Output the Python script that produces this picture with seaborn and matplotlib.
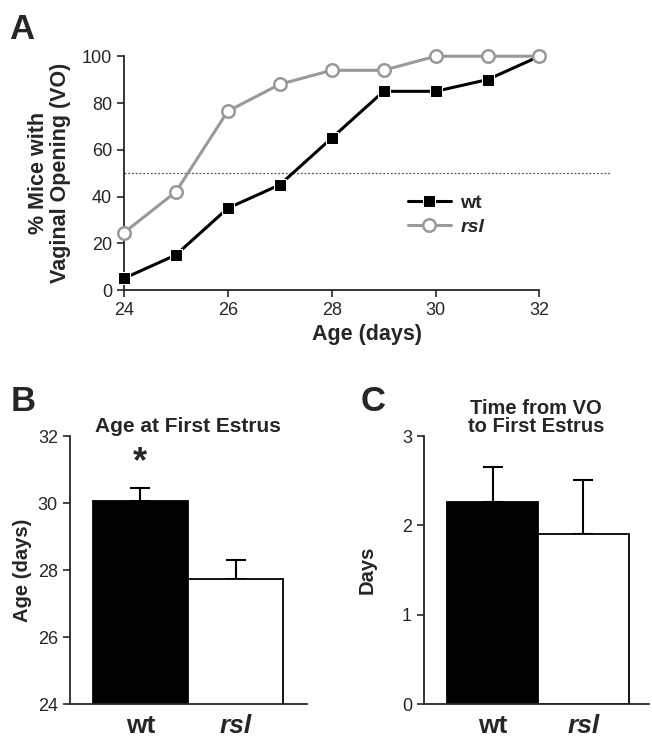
import matplotlib
matplotlib.use("Agg")
import matplotlib.pyplot as plt
import seaborn as sns
import pandas as pd

sns.set_style("ticks")
plt.rcParams["font.family"] = ["Liberation Sans", "DejaVu Sans"]

# Panel A data
age_days = [24, 25, 26, 27, 28, 29, 30, 31, 32]
wt_vo = [5, 15, 35, 45, 65, 85, 85, 90, 100]
rsl_vo = [24.5, 42, 76.5, 88, 94, 94, 100, 100, 100]

# Panel B / C data
groups = ["wt", "rsl"]
first_estrus_age = [30.05, 27.72]
first_estrus_sem = [0.40, 0.59]
vo_to_estrus = [2.26, 1.90]
vo_to_estrus_sem = [0.40, 0.61]

df_a = pd.DataFrame({
    "age": age_days * 2,
    "pct": wt_vo + rsl_vo,
    "genotype": ["wt"] * len(age_days) + ["rsl"] * len(age_days),
})

GRAY = "#999999"
fig = plt.figure(figsize=(6.52, 7.40), dpi=100)

# ---- Panel A ----
ax_a = fig.add_axes([0.190, 0.608, 0.745, 0.316])
sns.lineplot(data=df_a, x="age", y="pct", hue="genotype", style="genotype",
             palette={"wt": "black", "rsl": GRAY},
             markers={"wt": "s", "rsl": "o"}, dashes=False,
             linewidth=2.2, markersize=8, ax=ax_a, clip_on=False, zorder=3)
for ln in ax_a.lines:
    if ln.get_color() == GRAY:
        ln.set_markerfacecolor("white")
        ln.set_markeredgecolor(GRAY)
        ln.set_markeredgewidth(1.8)
        ln.set_markersize(9)
ax_a.axhline(50, color="#555555", linestyle=(0, (1.5, 1.5)), linewidth=0.9, zorder=1)
ax_a.set_xlim(24, 33.35)
ax_a.set_ylim(0, 100)
ax_a.spines["bottom"].set_bounds(24, 32)
ax_a.set_xticks([24, 26, 28, 30, 32])
ax_a.set_yticks([0, 20, 40, 60, 80, 100])
sns.despine(ax=ax_a)
ax_a.set_xlabel("Age (days)", fontsize=15.5, fontweight="bold", labelpad=4)
ax_a.set_ylabel("% Mice with\nVaginal Opening (VO)", fontsize=15.5, fontweight="bold",
                linespacing=1.05, labelpad=8)
handles, labels = ax_a.get_legend_handles_labels()
leg = ax_a.legend(handles, labels, loc="upper left", bbox_to_anchor=(0.585, 0.41),
                  frameon=False, handlelength=2.2, fontsize=14, labelspacing=0.35,
                  handletextpad=0.5, borderpad=0, borderaxespad=0)
for t in leg.get_texts():
    t.set_fontweight("bold")
    if t.get_text() == "rsl":
        t.set_fontstyle("italic")
for h in leg.legend_handles:
    if h.get_color() == GRAY:
        h.set_markerfacecolor("white")
        h.set_markeredgewidth(1.8)


def bar_panel(ax, values, errs, ylim, yticks, title, ylabel, xlim):
    sns.barplot(x=groups, y=values, palette=["black", "white"], hue=groups,
                legend=False, width=1.0, edgecolor="black", linewidth=1.3, ax=ax)
    ax.errorbar([0, 1], values, yerr=[[0, 0], errs], fmt="none", ecolor="black",
                elinewidth=1.5, capsize=7, capthick=1.5, zorder=0)
    ax.set_ylim(*ylim)
    ax.set_xlim(*xlim)
    ax.set_yticks(yticks)
    ax.tick_params(axis="x", length=0, pad=7)
    sns.despine(ax=ax)
    ax.set_title(title, fontsize=15, fontweight="bold", pad=3)
    ax.set_ylabel(ylabel, fontsize=14.5, fontweight="bold")
    for lab in ax.get_xticklabels():
        lab.set_fontsize(19)
        lab.set_fontweight("bold")
        if lab.get_text() == "rsl":
            lab.set_fontstyle("italic")


# ---- Panel B ----
ax_b = fig.add_axes([0.107, 0.0486, 0.364, 0.362])
bar_panel(ax_b, first_estrus_age, first_estrus_sem, (24, 32), [24, 26, 28, 30, 32],
          "Age at First Estrus", "Age (days)", (-0.74, 1.75))
ax_b.text(0, first_estrus_age[0] + first_estrus_sem[0] + 0.25, "*", ha="center",
          va="bottom", fontsize=26, fontweight="bold")

# ---- Panel C ----
ax_c = fig.add_axes([0.650, 0.0486, 0.345, 0.362])
bar_panel(ax_c, vo_to_estrus, vo_to_estrus_sem, (0, 3), [0, 1, 2, 3],
          "Time from VO\nto First Estrus", "Days", (-0.76, 1.72))
ax_c.title.set_linespacing(0.9)
ax_c.title.set_fontsize(14.5)
ax_c.yaxis.labelpad = 18

for ax in (ax_a, ax_b, ax_c):
    ax.tick_params(axis="y", direction="out", length=5, width=1.2, labelsize=13)
    for sp in ("left", "bottom"):
        ax.spines[sp].set_linewidth(1.3)
ax_a.tick_params(axis="x", direction="out", length=5, width=1.2, labelsize=13)

fig.text(0.014, 0.982, "A", fontsize=25, fontweight="bold", va="top")
fig.text(0.016, 0.480, "B", fontsize=25, fontweight="bold", va="top")
fig.text(0.553, 0.480, "C", fontsize=25, fontweight="bold", va="top")

fig.savefig("out.png", dpi=100)
